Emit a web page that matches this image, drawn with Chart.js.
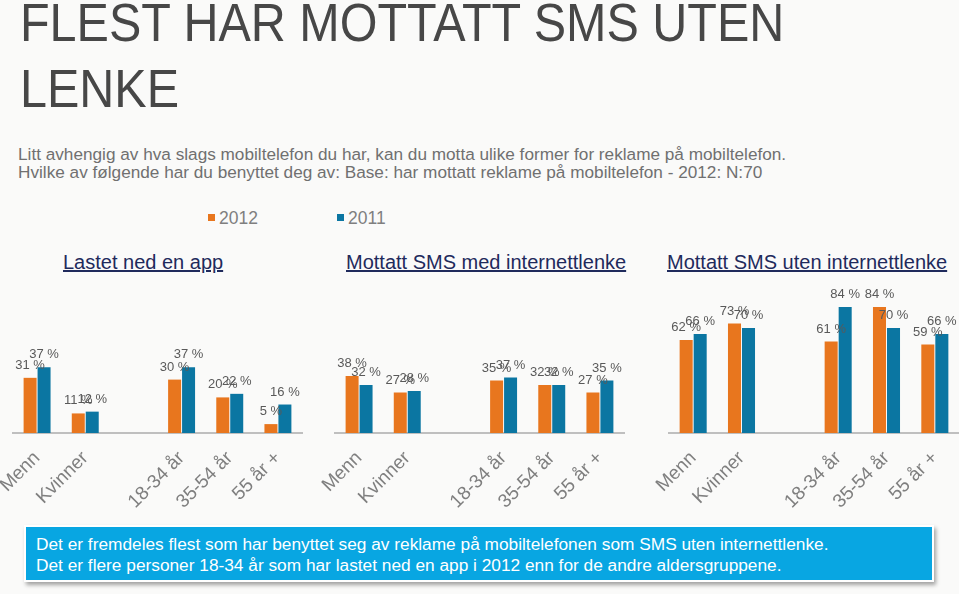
<!DOCTYPE html>
<html>
<head>
<meta charset="utf-8">
<script src="https://cdn.jsdelivr.net/npm/chart.js"></script>
<style>
  body { margin: 0; width: 959px; height: 594px; background: #fafaf9; overflow: hidden; position: relative; font-family: "Liberation Sans", Arial, sans-serif; }
  .title { position: absolute; left: 20px; top: -10px; font-size: 53px; line-height: 66px; color: #474747; transform: scaleX(0.915); transform-origin: 0 0; white-space: nowrap; }
  .sub { position: absolute; left: 18px; top: 145px; font-size: 17.2px; line-height: 18px; color: #707070; white-space: nowrap; }
  .legend { position: absolute; top: 208px; font-size: 17.5px; color: #7f7f7f; white-space: nowrap; }
  .legend i { display: inline-block; width: 7px; height: 7px; margin-right: 4px; vertical-align: 3px; }
  .ptitle { position: absolute; top: 251px; font-size: 20px; color: #1f2a5c; text-decoration: underline; white-space: nowrap; }
  canvas { position: absolute; top: 270px; }
  .box { position: absolute; left: 24px; top: 525px; width: 910px; height: 57px; background: #08a6e2; border: 2px solid #fff; box-shadow: 2px 3px 4px rgba(0,0,0,0.35); color: #fff; font-size: 17.3px; line-height: 21px; box-sizing: border-box; padding: 7px 0 0 10px; white-space: nowrap; }
</style>
</head>
<body>
<div class="title">FLEST HAR MOTTATT SMS UTEN<br>LENKE</div>
<div class="sub">Litt avhengig av hva slags mobiltelefon du har, kan du motta ulike former for reklame på mobiltelefon.<br>Hvilke av følgende har du benyttet deg av: Base: har mottatt reklame på mobiltelefon - 2012: N:70</div>
<div id="legend"></div>
<div class="ptitle" style="left:63px">Lastet ned en app</div>
<div class="ptitle" style="left:346px">Mottatt SMS med internettlenke</div>
<div class="ptitle" style="left:667px">Mottatt SMS uten internettlenke</div>
<canvas id="c1" width="329" height="240" style="left:-17px"></canvas>
<canvas id="c2" width="330" height="240" style="left:305px"></canvas>
<canvas id="c3" width="320" height="240" style="left:639px"></canvas>
<div class="box">Det er fremdeles flest som har benyttet seg av reklame på mobiltelefonen som SMS uten internettlenke.<br>Det er flere personer 18-34 år som har lastet ned en app i 2012 enn for de andre aldersgruppene.</div>
<script>
const categories = ['Menn', 'Kvinner', '', '18-34 år', '35-54 år', '55 år +'];
const seriesNames = ['2012', '2011'];
const seriesColors = ['#e8761e', '#0b76a2'];

const app2012 = [31, 11, null, 30, 20, 5];
const app2011 = [37, 12, null, 37, 22, 16];
const medLenke2012 = [38, 27, null, 35, 32, 27];
const medLenke2011 = [32, 28, null, 37, 32, 35];
const utenLenke2012 = [62, 73, null, 61, 84, 59];
const utenLenke2011 = [66, 70, null, 84, 70, 66];

// shared legend
const legendPos = [208, 337];
document.getElementById('legend').innerHTML = seriesNames.map((n, i) =>
  `<div class="legend" style="left:${legendPos[i]}px"><i style="background:${seriesColors[i]}"></i>${n}</div>`
).join('');

// value labels above bars
const barLabels = {
  id: 'barLabels',
  afterDatasetsDraw(chart) {
    const ctx = chart.ctx;
    ctx.save();
    ctx.font = '13px "Liberation Sans", Arial, sans-serif';
    ctx.fillStyle = '#595959';
    ctx.textAlign = 'center';
    ctx.textBaseline = 'alphabetic';
    chart.data.datasets.forEach((ds, i) => {
      chart.getDatasetMeta(i).data.forEach((bar, j) => {
        const v = ds.data[j];
        if (v == null) return;
        ctx.fillText(v + ' %', bar.x, bar.y - 9);
      });
    });
    ctx.restore();
  }
};

function makePanel(id, d2012, d2011, yMax, padTop, padLeft, padRight) {
  new Chart(document.getElementById(id), {
    type: 'bar',
    data: {
      labels: categories,
      datasets: [
        { label: seriesNames[0], data: d2012, backgroundColor: seriesColors[0] },
        { label: seriesNames[1], data: d2011, backgroundColor: seriesColors[1] }
      ]
    },
    options: {
      responsive: false,
      animation: false,
      categoryPercentage: 0.58,
      barPercentage: 0.93,
      layout: { padding: { top: padTop, left: padLeft, right: padRight, bottom: 0 } },
      plugins: { legend: { display: false }, tooltip: { enabled: false } },
      scales: {
        x: {
          grid: { display: false },
          border: { display: true, color: '#bfbfbf', width: 2 },
          ticks: {
            color: '#7f7f7f',
            font: { family: '"Liberation Sans", Arial, sans-serif', size: 19 },
            minRotation: 45, maxRotation: 45, padding: 6
          },
          afterFit(s) { s.height = 77; s.paddingLeft = 0; s.paddingRight = 0; }
        },
        y: { display: false, min: 0, max: yMax }
      }
    },
    plugins: [barLabels]
  });
}

makePanel('c1', app2012, app2011, 50, 74, 30, 10);
makePanel('c2', medLenke2012, medLenke2011, 100, 13, 30, 11);
makePanel('c3', utenLenke2012, utenLenke2011, 100, 13, 30, 0);
</script>
</body>
</html>
